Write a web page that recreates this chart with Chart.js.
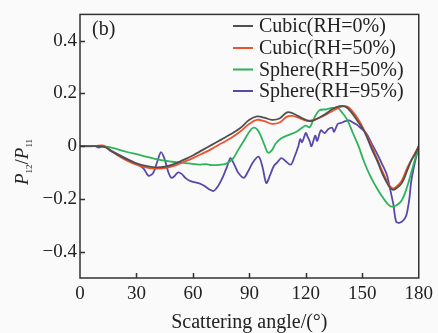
<head>
  <meta charset="UTF-8">
  <title>P12/P11</title>
  <script src="https://cdn.jsdelivr.net/npm/chart.js@4.4.0/dist/chart.umd.min.js"></script>
</head>
<style>
  body { margin: 0; background: #fafafa; }
  #wrap { width: 438px; height: 333px; }
</style>
<body>
  <div id="wrap"><canvas id="myChart" width="438" height="333"></canvas></div>
</body>

<script type="text/javascript">
  // tick labels
  var xTicks = [0, 30, 60, 90, 120, 150, 180];
  var yTicks = [-0.4, -0.2, 0, 0.2, 0.4];

  // series names
  var seriesNames = ['Cubic(RH=0%)', 'Cubic(RH=50%)', 'Sphere(RH=50%)', 'Sphere(RH=95%)'];

  // Cubic RH=0%
  var cubic0Angle = [0, 10, 14, 18, 25, 30, 35, 40, 45, 50, 55, 60, 65, 70, 75, 80, 85, 90, 94, 98, 102, 106, 110, 113, 116, 120, 123, 127, 130, 134, 138, 141, 144, 148, 151, 155, 158, 161, 164, 166, 168, 171, 174, 176, 178, 180];
  var cubic0Value = [0, 0, -0.005, -0.025, -0.05, -0.065, -0.075, -0.08, -0.078, -0.068, -0.052, -0.035, -0.015, 0.005, 0.025, 0.045, 0.068, 0.1, 0.113, 0.108, 0.1, 0.105, 0.128, 0.125, 0.114, 0.1, 0.095, 0.108, 0.12, 0.14, 0.152, 0.15, 0.13, 0.09, 0.057, -0.01, -0.057, -0.11, -0.15, -0.165, -0.16, -0.14, -0.09, -0.055, -0.03, 0];

  // Cubic RH=50%
  var cubic50Angle = [0, 8, 12, 15, 18, 25, 30, 35, 40, 45, 50, 55, 60, 65, 70, 75, 80, 85, 90, 94, 98, 102, 106, 110, 113, 116, 120, 124, 128, 132, 136, 139, 142, 145, 148, 151, 155, 158, 161, 164, 166, 168, 171, 174, 177, 180];
  var cubic50Value = [0, 0, 0.003, -0.01, -0.025, -0.055, -0.07, -0.08, -0.085, -0.083, -0.075, -0.06, -0.045, -0.028, -0.01, 0.01, 0.03, 0.055, 0.085, 0.1, 0.095, 0.085, 0.09, 0.112, 0.115, 0.108, 0.097, 0.1, 0.11, 0.125, 0.14, 0.15, 0.15, 0.13, 0.1, 0.06, 0.0, -0.05, -0.1, -0.145, -0.16, -0.155, -0.13, -0.08, -0.04, 0];

  // Sphere RH=50%
  var sphere50Angle = [0, 12, 15, 20, 25, 30, 35, 40, 45, 50, 55, 60, 63, 67, 70, 75, 78, 81, 84, 87, 90, 92, 94, 96, 98, 100, 102, 104, 107, 111, 115, 118, 120, 122, 124, 127, 131, 134, 137, 139, 142, 145, 148, 151, 154, 157, 160, 163, 165, 168, 171, 174, 176, 178, 180];
  var sphere50Value = [0, 0, -0.003, -0.012, -0.022, -0.03, -0.04, -0.048, -0.055, -0.06, -0.063, -0.067, -0.07, -0.068, -0.072, -0.07, -0.065, -0.05, -0.015, 0.02, 0.055, 0.07, 0.065, 0.04, 0.005, -0.025, -0.015, 0.01, 0.03, 0.043, 0.055, 0.07, 0.078, 0.072, 0.1, 0.135, 0.14, 0.145, 0.145, 0.13, 0.1, 0.05, 0.0, -0.06, -0.11, -0.15, -0.185, -0.215, -0.228, -0.225, -0.205, -0.15, -0.1, -0.05, 0];

  // Sphere RH=95%
  var sphere95Angle = [0, 8, 10, 12, 14, 16, 18, 20, 24, 29, 32, 34, 36, 37, 39, 41, 43, 45, 47, 48.5, 50, 52, 54, 56, 58, 60, 63, 66, 69, 71, 73, 76, 78, 80, 82, 84, 87, 89, 92, 95, 97, 99, 101, 103, 105, 107, 109, 112, 114, 116, 117, 118, 120, 121, 122, 123, 125, 126, 128, 130, 132, 134, 135, 137, 139, 141, 143, 145, 147, 149, 152, 155, 158, 160, 163, 165, 166.5, 168, 170, 172, 173.5, 175, 176, 178, 180];
  var sphere95Value = [0, 0, -0.005, 0, -0.005, -0.017, -0.022, -0.03, -0.045, -0.063, -0.075, -0.087, -0.11, -0.112, -0.1, -0.06, -0.023, -0.05, -0.1, -0.12, -0.115, -0.1, -0.105, -0.12, -0.13, -0.135, -0.14, -0.15, -0.165, -0.17, -0.155, -0.115, -0.08, -0.045, -0.07, -0.1, -0.12, -0.1, -0.06, -0.04, -0.08, -0.14, -0.11, -0.075, -0.06, -0.045, -0.055, -0.07, -0.04, 0.0, 0.027, 0.015, 0.05, 0.035, 0.02, 0.0, 0.04, 0.02, 0.06, 0.05, 0.065, 0.07, 0.055, 0.085, 0.089, 0.095, 0.098, 0.09, 0.082, 0.07, 0.05, 0.01, -0.03, -0.06, -0.107, -0.17, -0.22, -0.286, -0.29, -0.28, -0.26, -0.2, -0.133, -0.06, 0];

  var colors = ['#505050', '#f0522d', '#2db35a', '#5a48a8'];
  var serif = '"Liberation Serif", "Times New Roman", serif';

  function toPoints(xs, ys) {
    var pts = [];
    for (var i = 0; i < xs.length; i++) {
      pts.push({ x: xs[i], y: ys[i] });
    }
    return pts;
  }

  function makeSet(i, xs, ys, tension) {
    return {
      label: seriesNames[i],
      data: toPoints(xs, ys),
      borderColor: colors[i],
      backgroundColor: colors[i],
      borderWidth: 1.8,
      pointRadius: 0,
      tension: tension,
      fill: false
    };
  }

  // background, box frame and inward ticks
  var framePlugin = {
    id: 'frame',
    beforeDraw: function (chart) {
      var ctx = chart.ctx;
      ctx.save();
      ctx.fillStyle = '#fafafa';
      ctx.fillRect(0, 0, chart.width, chart.height);
      ctx.restore();
    },
    afterDatasetsDraw: function (chart) {
      var ctx = chart.ctx;
      var a = chart.chartArea;
      var xs = chart.scales.x, ys = chart.scales.y;
      ctx.save();
      ctx.strokeStyle = '#333';
      ctx.lineWidth = 1.5;
      ctx.strokeRect(a.left, a.top, a.right - a.left, a.bottom - a.top);
      ctx.beginPath();
      for (var i = 1; i < xTicks.length - 1; i++) {
        var px = Math.round(xs.getPixelForValue(xTicks[i])) + 0.5;
        ctx.moveTo(px, a.bottom);
        ctx.lineTo(px, a.bottom - 5);
      }
      for (var j = 0; j < yTicks.length; j++) {
        var py = Math.round(ys.getPixelForValue(yTicks[j])) + 0.5;
        ctx.moveTo(a.left, py);
        ctx.lineTo(a.left + 5, py);
      }
      ctx.stroke();
      ctx.restore();
    }
  };

  // legend inside the plot, panel letter and y axis title
  var textPlugin = {
    id: 'texts',
    afterDraw: function (chart) {
      var ctx = chart.ctx;
      ctx.save();
      ctx.fillStyle = '#222';
      ctx.textBaseline = 'middle';
      ctx.font = '20px ' + serif;
      ctx.fillText('(b)', 92, 30);

      var rows = [26, 48, 69.5, 91];
      chart.data.datasets.forEach(function (ds, i) {
        ctx.strokeStyle = ds.borderColor;
        ctx.lineWidth = 2;
        ctx.beginPath();
        ctx.moveTo(233, rows[i]);
        ctx.lineTo(253, rows[i]);
        ctx.stroke();
        ctx.fillStyle = '#222';
        ctx.font = '20px ' + serif;
        ctx.fillText(ds.label, 259, rows[i] + 1);
      });

      // P12/P11 rotated, centred on y=162
      ctx.translate(28, 162);
      ctx.rotate(-Math.PI / 2);
      ctx.textBaseline = 'alphabetic';
      var parts = [
        ['italic 19px ' + serif, 'P', 0],
        ['9px ' + serif, '12', 4],
        ['19px ' + serif, '/', 0],
        ['italic 19px ' + serif, 'P', 0],
        ['9px ' + serif, '11', 4]
      ];
      var total = 0;
      parts.forEach(function (p) {
        ctx.font = p[0];
        total += ctx.measureText(p[1]).width;
      });
      var x = -total / 2;
      parts.forEach(function (p) {
        ctx.font = p[0];
        ctx.fillText(p[1], x, p[2]);
        x += ctx.measureText(p[1]).width;
      });
      ctx.restore();
    }
  };

  var ctx = document.getElementById('myChart');
  var myChart = new Chart(ctx, {
    type: 'line',
    data: {
      datasets: [
        makeSet(0, cubic0Angle, cubic0Value, 0.4),
        makeSet(1, cubic50Angle, cubic50Value, 0.4),
        makeSet(2, sphere50Angle, sphere50Value, 0.4),
        makeSet(3, sphere95Angle, sphere95Value, 0.3)
      ]
    },
    options: {
      responsive: false,
      animation: false,
      layout: { padding: { left: 0, right: 17, top: 13, bottom: 0 } },
      plugins: {
        legend: { display: false },
        tooltip: { enabled: false }
      },
      scales: {
        x: {
          type: 'linear',
          min: 0,
          max: 180,
          grid: { display: false, drawTicks: false },
          border: { display: false },
          afterBuildTicks: function (scale) {
            scale.ticks = xTicks.map(function (v) { return { value: v }; });
          },
          afterFit: function (scale) { scale.height = 55; },
          ticks: {
            autoSkip: false,
            maxRotation: 0,
            padding: 5,
            color: '#222',
            font: { family: serif, size: 19 }
          },
          title: {
            display: true,
            text: 'Scattering angle/(°)',
            color: '#222',
            font: { family: serif, size: 20, lineHeight: 1.0 },
            padding: { top: 0, bottom: 0 }
          }
        },
        y: {
          min: -0.5,
          max: 0.5,
          grid: { display: false, drawTicks: false },
          border: { display: false },
          afterBuildTicks: function (scale) {
            scale.ticks = yTicks.map(function (v) { return { value: v }; });
          },
          afterFit: function (scale) { scale.width = 80; },
          ticks: {
            padding: 3,
            color: '#222',
            font: { family: serif, size: 19 },
            callback: function (v) {
              if (Math.abs(v) < 1e-9) return '0';
              return String(Math.round(v * 10) / 10).replace('-', '\u2212');
            }
          }
        }
      }
    },
    plugins: [framePlugin, textPlugin]
  });
</script>
